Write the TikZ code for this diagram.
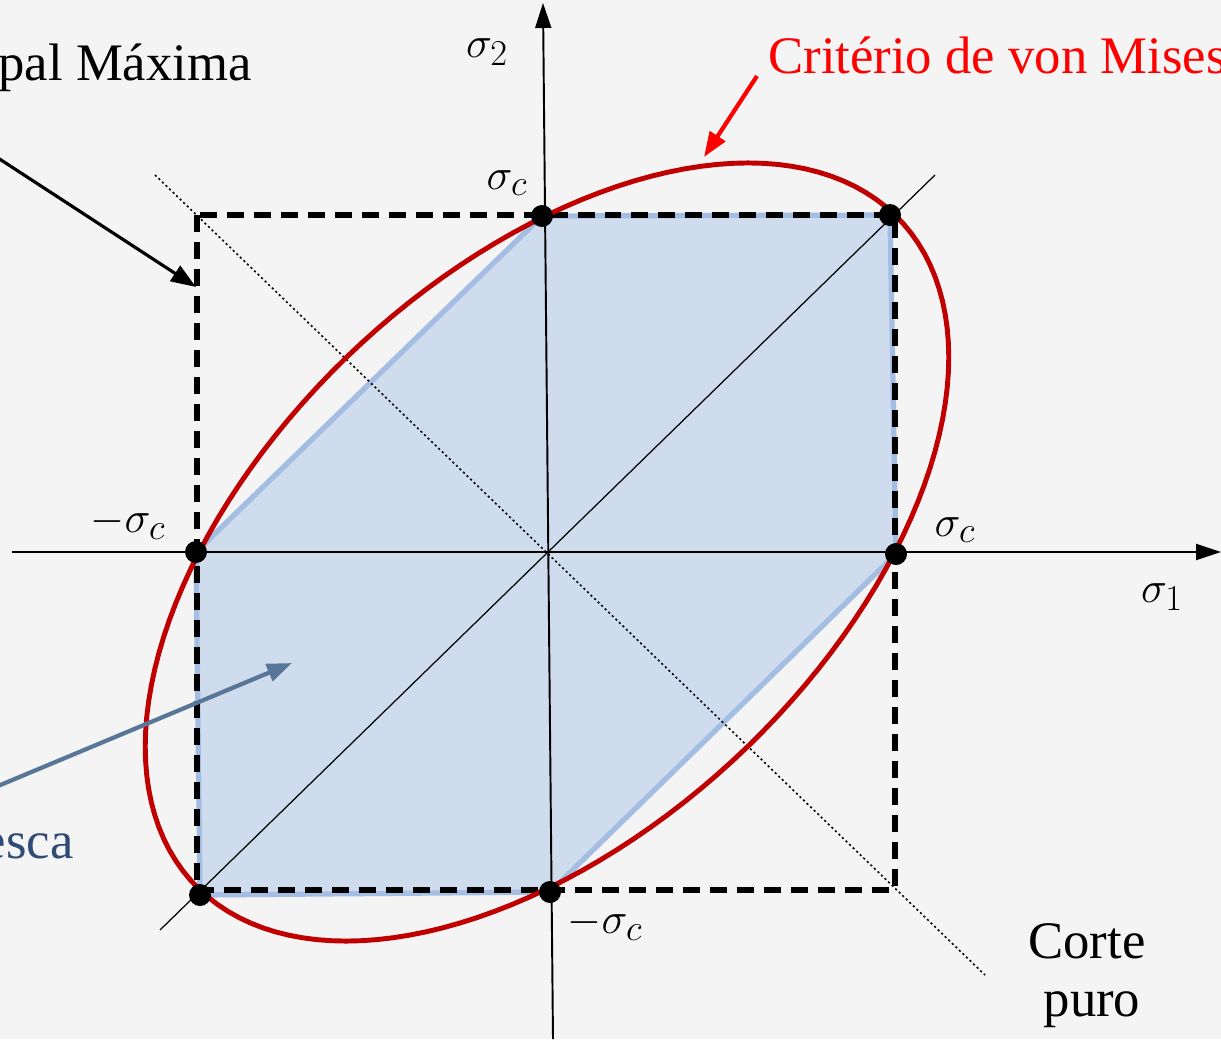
\documentclass[tikz,border=0pt]{standalone}
\usepackage{amsmath}
\usepackage{fontspec}
\setmainfont{Liberation Serif}
\usetikzlibrary{arrows.meta}
\definecolor{bgcolor}{RGB}{244,244,244}
\definecolor{misescolor}{RGB}{192,0,0}
\definecolor{misesarrow}{RGB}{255,0,0}
\definecolor{trescafill}{RGB}{207,220,238}
\definecolor{trescaline}{RGB}{164,189,227}
\definecolor{trescaarrow}{RGB}{88,118,152}
\definecolor{trescatext}{RGB}{47,74,117}

\begin{document}
\begin{tikzpicture}[x=0.02cm, y=-0.02cm,
    lbl/.style={font=\fontsize{30}{36}\selectfont, inner sep=0pt},
    mlbl/.style={font=\fontsize{28}{34}\selectfont, inner sep=0pt},
    axis/.style={line width=1.1pt, -{Triangle[length=0.5cm, width=0.32cm]}},
    pointer/.style={line width=1.8pt, -{Triangle[length=0.5cm, width=0.36cm]}},
    knot/.style={circle, fill=black, minimum size=0.44cm, inner sep=0pt}]
        % Background and page size
        \fill[bgcolor] (0,0) rectangle (1221,1039);
        \useasboundingbox (0,0) rectangle (1221,1039);
        % Corner points of the criteria
        \coordinate (O) at (547,552);
        \coordinate (top) at (542,216);
        \coordinate (topright) at (890,215);
        \coordinate (left) at (196,552);
        \coordinate (right) at (896,554);
        \coordinate (botleft) at (200,895);
        \coordinate (bottom) at (550,892);
        % Tresca hexagon
        \filldraw[fill=trescafill, draw=trescaline, line width=3pt, line join=round]
          (left) -- (top) -- (topright) -- (right) -- (bottom) -- (botleft) -- cycle;
        % Maximum principal stress square
        \coordinate (sqA) at (197,215);
        \coordinate (sqB) at (895,890);
        \draw[line width=3.2pt, dash pattern=on 0.34cm off 0.2cm] (sqA) rectangle (sqB);
        % Diagonals
        \coordinate (dA) at (160,930);
        \coordinate (dB) at (935,175);
        \draw[line width=0.7pt] (dA) -- (dB);
        \coordinate (cA) at (155,175);
        \coordinate (cB) at (985,975);
        \draw[line width=0.9pt, dash pattern=on 1.2pt off 1.6pt] (cA) -- (cB);
        % Axes
        \coordinate (h0) at (12,552);
        \coordinate (h1) at (1221,552);
        \draw[axis] (h0) -- (h1);
        \coordinate (v0) at (553,1039);
        \coordinate (v1) at (543,3);
        \draw[axis] (v0) -- (v1);
        % von Mises ellipse
        \draw[misescolor, line width=2.8pt] plot[domain=0:360, samples=145]
          ({547+348*(cos(\x)-0.577*sin(\x))}, {552-337*(cos(\x)+0.577*sin(\x))}) -- cycle;
        % Points
        \node[knot] (ktop) at (top) {};
        \node[knot] (ktopright) at (topright) {};
        \node[knot] (kleft) at (left) {};
        \node[knot] (kright) at (right) {};
        \node[knot] (kbotleft) at (botleft) {};
        \node[knot] (kbottom) at (bottom) {};
        % Axis and point labels
        \node[mlbl] (s2) at (487,52) {$\sigma_2$};
        \node[mlbl] (s1) at (1162,597) {$\sigma_1$};
        \node[mlbl] (sctop) at (507,183) {$\sigma_c$};
        \node[mlbl] (scleft) at (128,523) {$-\sigma_c$};
        \node[mlbl] (scright) at (955,530) {$\sigma_c$};
        \node[mlbl] (scbottom) at (605,924) {$-\sigma_c$};
        % Criteria labels
        \node[lbl, anchor=base east] (tpm) at (252,80) {pal Máxima};
        \node[lbl, anchor=base west, text=misesarrow] (mises) at (768,73) {Critério de von Mises};
        \node[lbl, anchor=base east, text=trescatext] (tresca) at (74,858) {esca};
        \node[lbl, anchor=base] (corte) at (1087,958) {Corte};
        \node[lbl, anchor=base] (puro) at (1092,1016) {puro};
        % Pointers
        \coordinate (tpmtail) at (-2,158);
        \coordinate (tpmhead) at (196,287);
        \draw[pointer, black] (tpmtail) -- (tpmhead);
        \coordinate (misestail) at (757,76);
        \coordinate (miseshead) at (704,157);
        \draw[pointer, misesarrow, line width=2.4pt] (misestail) -- (miseshead);
        \coordinate (trescatail) at (-2,786);
        \coordinate (trescahead) at (292,663);
        \draw[pointer, trescaarrow, line width=2.4pt] (trescatail) -- (trescahead);
\end{tikzpicture}
\end{document}
